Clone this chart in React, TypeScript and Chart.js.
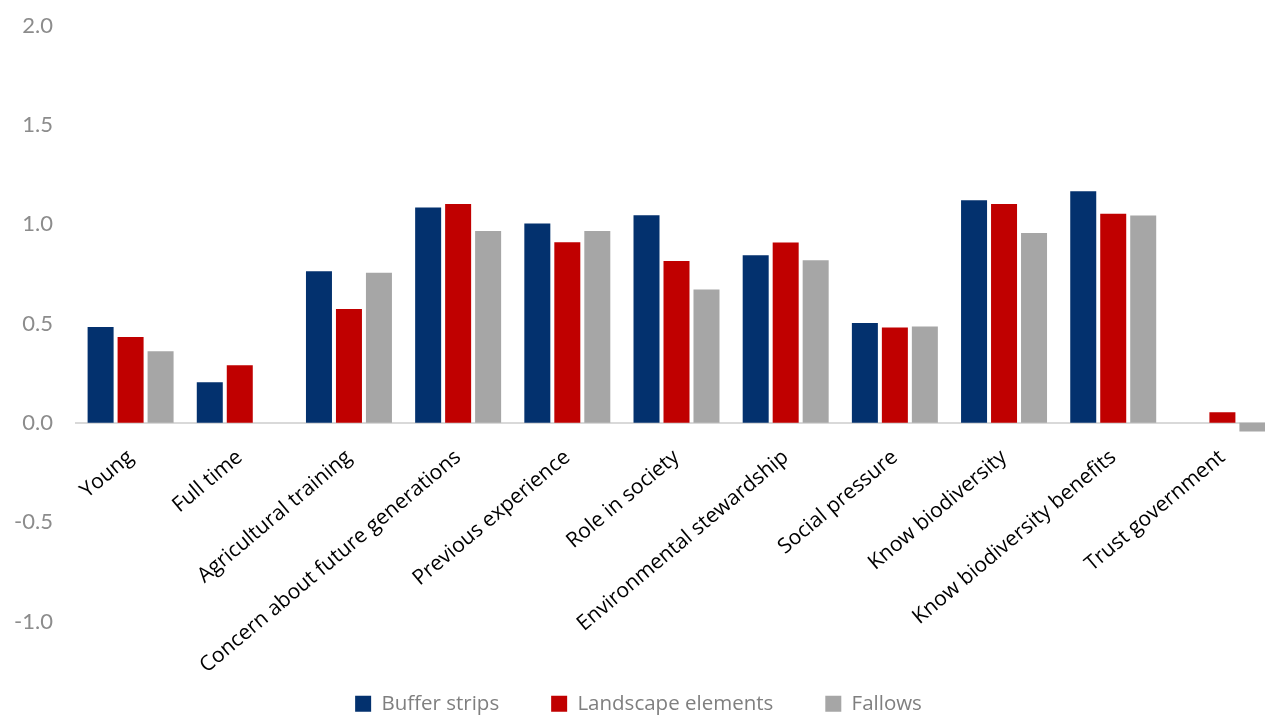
import React, { useEffect, useRef } from "react";
import { Chart, registerables } from "chart.js";

Chart.register(...registerables);

const categories = [
  "Young",
  "Full time",
  "Agricultural training",
  "Concern about future generations",
  "Previous experience",
  "Role in society",
  "Environmental stewardship",
  "Social pressure",
  "Know biodiversity",
  "Know biodiversity benefits",
  "Trust government",
];

const bufferStrips = [0.483, 0.204, 0.763, 1.084, 1.003, 1.045, 0.844, 0.503, 1.121, 1.166, null];
const landscapeElements = [0.432, 0.29, 0.573, 1.101, 0.909, 0.814, 0.908, 0.48, 1.101, 1.052, 0.053];
const fallows = [0.36, null, 0.755, 0.966, 0.966, 0.671, 0.819, 0.485, 0.956, 1.044, -0.044];

const seriesNames = ["Buffer strips", "Landscape elements", "Fallows"];
const seriesColors = ["#03316E", "#C00000", "#A6A6A6"];

const yMin = -1.0;
const yMax = 2.0;
const yStep = 0.5;

export default function App() {
  const ref = useRef<HTMLCanvasElement | null>(null);

  useEffect(() => {
    if (!ref.current) return;
    const chart = new Chart(ref.current, {
      type: "bar",
      data: {
        labels: categories,
        datasets: [bufferStrips, landscapeElements, fallows].map((d, i) => ({
          label: seriesNames[i],
          data: d,
          backgroundColor: seriesColors[i],
          borderWidth: 0,
          categoryPercentage: 0.824,
          barPercentage: 0.867,
        })),
      },
      options: {
        responsive: false,
        animation: false,
        devicePixelRatio: 1,
        layout: { padding: { top: 25.5, left: 0, right: 2, bottom: 0 } },
        plugins: {
          tooltip: { enabled: false },
          legend: {
            position: "bottom",
            labels: {
              boxWidth: 16,
              boxHeight: 16,
              padding: 52,
              color: "#7F7F7F",
              font: { family: "'Open Sans', sans-serif", size: 20.5 },
            },
          },
        },
        scales: {
          x: {
            position: { y: 0 } as any,
            grid: { display: false, drawTicks: false },
            border: { display: true, color: "#D9D9D9", width: 2 },
            ticks: {
              autoSkip: false,
              minRotation: 40,
              maxRotation: 40,
              padding: 22,
              color: "#000000",
              font: { family: "'Open Sans', sans-serif", size: 21 },
            },
          },
          xSpacer: {
            type: "category",
            labels: categories,
            position: "bottom",
            grid: { display: false, drawTicks: false },
            border: { display: false },
            ticks: { display: false },
            afterFit: (s: any) => {
              s.height = 20;
            },
          },
          y: {
            min: yMin,
            max: yMax,
            grid: { display: false, drawTicks: false },
            border: { display: false },
            ticks: {
              stepSize: yStep,
              padding: 23,
              color: "#8C8C8C",
              font: { family: "Lato, sans-serif", size: 22 },
              callback: (v: any) => Number(v).toFixed(1),
            },
            afterFit: (s: any) => {
              s.width = 76;
              s.paddingTop = 0;
              s.paddingBottom = 0;
            },
          },
        },
      },
    });
    return () => chart.destroy();
  }, []);

  return (
    <div
      style={{
        position: "absolute",
        left: 0,
        top: 0,
        width: 1265,
        height: 715,
        overflow: "hidden",
        background: "#fff",
      }}
    >
      <canvas ref={ref} width={1279} height={724} style={{ display: "block" }} />
    </div>
  );
}
